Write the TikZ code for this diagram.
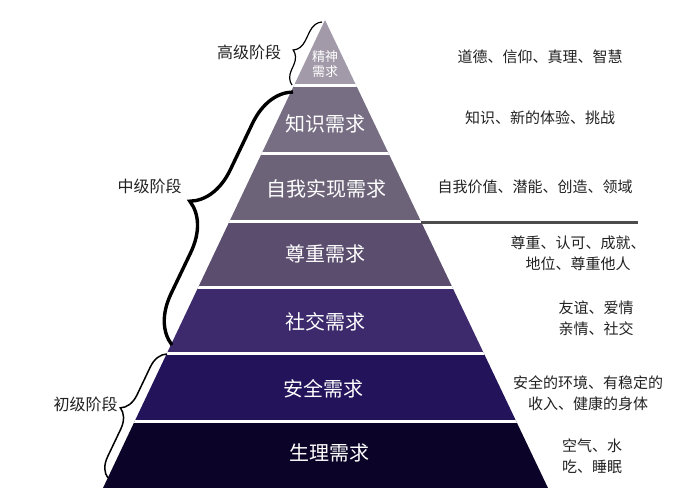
\documentclass[tikz,border=0pt]{standalone}
\usepackage{fontspec}
\setmainfont{Noto Sans CJK SC}
\usetikzlibrary{decorations.pathreplacing}
\definecolor{layseven}{HTML}{A29AA8}
\definecolor{laysix}{HTML}{776E84}
\definecolor{layfive}{HTML}{6C6378}
\definecolor{layfour}{HTML}{5A4D6E}
\definecolor{laythree}{HTML}{3D2A6C}
\definecolor{laytwo}{HTML}{22135A}
\definecolor{layone}{HTML}{0B0428}
\definecolor{notegray}{HTML}{222222}

\tikzset{
  x=1pt, y=1pt,
  laytext/.style={white, font=\fontsize{20}{24}\selectfont},
  notetext/.style={notegray, align=center, font=\fontsize{15}{21}\selectfont},
  stagetext/.style={notegray, font=\fontsize{16}{20}\selectfont},
  stagebrace/.style={decorate, decoration={brace, amplitude=#1}},
  sepline/.style={white, line width=3pt}
}

\begin{document}
\begin{tikzpicture}
      \useasboundingbox [fill=white] (0, 0) rectangle (693, 488);

      % pyramid bands
      \begin{scope}
        \clip (103, 0) -- (325, 468) -- (548, 0) -- cycle;
        \fill [layone] (0, 0) rectangle (693, 67);
        \fill [laytwo] (0, 67) rectangle (693, 135);
        \fill [laythree] (0, 135) rectangle (693, 201);
        \fill [layfour] (0, 201) rectangle (693, 267);
        \fill [layfive] (0, 267) rectangle (693, 334);
        \fill [laysix] (0, 334) rectangle (693, 402);
        \fill [layseven] (0, 402) rectangle (693, 470);
        \draw [sepline] (0, 67) -- (693, 67);
        \draw [sepline] (0, 135) -- (693, 135);
        \draw [sepline] (0, 201) -- (693, 201);
        \draw [sepline] (0, 267) -- (693, 267);
        \draw [sepline] (0, 334) -- (693, 334);
        \draw [sepline] (0, 402) -- (693, 402);
      \end{scope}

      % rule on the right
      \coordinate (ruleL) at (421, 265.5);
      \coordinate (ruleR) at (638, 265.5);
      \draw [black!70, line width=2.2pt] (ruleL) -- (ruleR);

      % layer names
      \node [white, align=center, font=\fontsize{13}{15}\selectfont] (spirit) at (325, 423.5) {精神\\需求};
      \node [laytext] (know) at (325, 364) {知识需求};
      \node [laytext] (self) at (326, 299) {自我实现需求};
      \node [laytext] (esteem) at (325, 234) {尊重需求};
      \node [laytext] (social) at (325, 166) {社交需求};
      \node [laytext] (safe) at (323, 99) {安全需求};
      \node [laytext] (body) at (329, 35) {生理需求};

      % notes
      \node [notetext] (spiritN) at (540, 431) {道德、信仰、真理、智慧};
      \node [notetext] (knowN) at (540, 370) {知识、新的体验、挑战};
      \node [notetext] (selfN) at (535, 301) {自我价值、潜能、创造、领域};
      \node [notetext] (esteemN) at (578, 234.5) {尊重、认可、成就、\\地位、尊重他人};
      \node [notetext] (socialN) at (596, 169.5) {友谊、爱情\\亲情、社交};
      \node [notetext] (safeN) at (588, 94.5) {安全的环境、有稳定的\\收入、健康的身体};
      \node [notetext] (bodyN) at (592, 31.5) {空气、水\\吃、睡眠};

      % stages
      \coordinate (highB) at (292, 403);
      \coordinate (highT) at (322, 466);
      \coordinate (midB) at (172, 143);
      \coordinate (midT) at (293, 396);
      \coordinate (lowB) at (108, 10);
      \coordinate (lowT) at (167, 134);
      \draw [stagebrace=14, decoration={aspect=0.46}, line width=1.2pt] (highB) -- (highT);
      \draw [stagebrace=46, decoration={aspect=0.49}, line width=3.4pt] (midB) -- (midT);
      \draw [stagebrace=19, line width=1.5pt] (lowB) -- (lowT);
      \node [stagetext] (high) at (249, 436) {高级阶段};
      \node [stagetext] (mid) at (149.5, 302) {中级阶段};
      \node [stagetext] (low) at (85.5, 84) {初级阶段};
    \end{tikzpicture}
\end{document}
